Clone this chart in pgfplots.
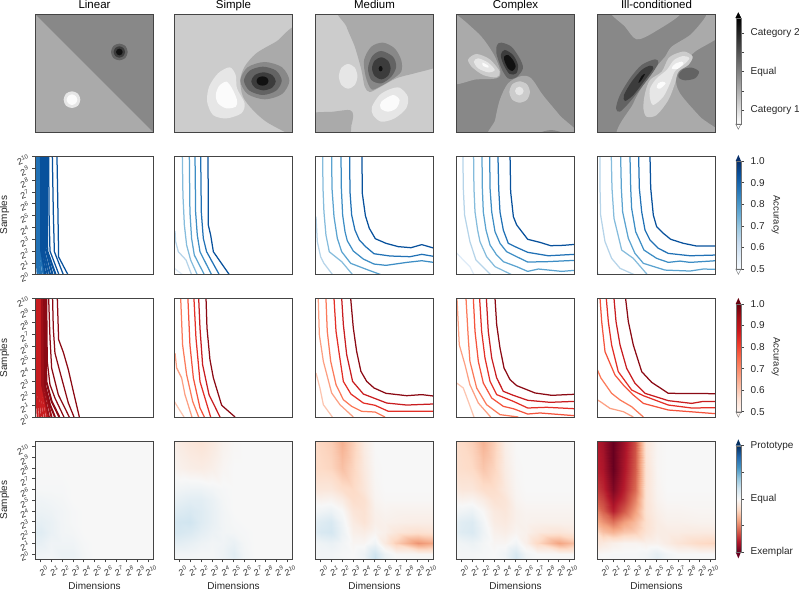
\documentclass[border=0pt]{standalone}
\usepackage{fontspec}
\setmainfont{Liberation Sans}
\usepackage{pgfplots}
\pgfplotsset{compat=1.18}
\definecolor{g0}{HTML}{FBFBFB}\definecolor{g1}{HTML}{E6E6E6}\definecolor{g2}{HTML}{CCCCCC}\definecolor{g3}{HTML}{AAAAAA}
\definecolor{g4}{HTML}{888888}\definecolor{g5}{HTML}{636363}\definecolor{g6}{HTML}{3C3C3C}\definecolor{g7}{HTML}{111111}
\definecolor{b0}{HTML}{DEEBF7}\definecolor{b1}{HTML}{B6D4E9}\definecolor{b2}{HTML}{85BCDC}\definecolor{b3}{HTML}{5BA3D0}
\definecolor{b4}{HTML}{3D8DC4}\definecolor{b5}{HTML}{2171B5}\definecolor{b6}{HTML}{08519C}
\definecolor{r0}{HTML}{FCC5B0}\definecolor{r1}{HTML}{FC9F82}\definecolor{r2}{HTML}{FB7A5A}\definecolor{r3}{HTML}{F4533C}
\definecolor{r4}{HTML}{E32F27}\definecolor{r5}{HTML}{C81D20}\definecolor{r6}{HTML}{8B0A14}
\definecolor{frame}{HTML}{444444}
\pgfplotsset{
 colormap={myblues}{HTML=(F7FBFF) HTML=(DEEBF7) HTML=(C6DBEF) HTML=(9ECAE1) HTML=(6BAED6) HTML=(4292C6) HTML=(2171B5) HTML=(08519C) HTML=(08306B)},
 colormap={myreds}{HTML=(FFF5F0) HTML=(FEE0D2) HTML=(FCBBA1) HTML=(FC9272) HTML=(FB6A4A) HTML=(EF3B2C) HTML=(CB181D) HTML=(A50F15) HTML=(67000D)},
 colormap={myrdbu}{HTML=(67001F) HTML=(B2182B) HTML=(D6604D) HTML=(F4A582) HTML=(FDDBC7) HTML=(F7F7F7) HTML=(D1E5F0) HTML=(92C5DE) HTML=(4393C3) HTML=(2166AC) HTML=(053061)},
 colormap={mygray}{HTML=(FFFFFF) HTML=(000000)},
 panel/.style 2 args={at={(#1pt,#2pt)},anchor=south west,width=118.4pt,height=118.4pt,scale only axis,
   axis line style={frame,line width=0.8pt},tick style={frame,line width=0.6pt},tick align=outside,
   major tick length=3pt,axis on top,every axis title shift=0pt,
   title style={font=\fontsize{11.5}{13}\selectfont,anchor=base,yshift=5.6pt,inner sep=0pt}},
 top/.style={xtick=\empty,ytick=\empty,y dir=reverse,ymin=43,ymax=398,every axis plot/.append style={draw=none,smooth cycle}},
 lines/.style={xmin=0,xmax=10,ymin=0,ymax=10,xtick=\empty,ytick=\empty,every axis plot/.append style={line width=1.25pt,line join=round,no markers,sharp plot}},
 powy/.style={ytick={0,...,10},yticklabels={2\textsuperscript{0},2\textsuperscript{1},2\textsuperscript{2},2\textsuperscript{3},2\textsuperscript{4},2\textsuperscript{5},2\textsuperscript{6},2\textsuperscript{7},2\textsuperscript{8},2\textsuperscript{9},2\textsuperscript{10}},yticklabel style={font=\fontsize{9}{10}\selectfont,text=black!80,rotate=20,anchor=east,inner sep=1pt,xshift=-2.5pt},ytick pos=left},
 powx/.style={xtick={0,...,10},xticklabels={2\textsuperscript{0},2\textsuperscript{1},2\textsuperscript{2},2\textsuperscript{3},2\textsuperscript{4},2\textsuperscript{5},2\textsuperscript{6},2\textsuperscript{7},2\textsuperscript{8},2\textsuperscript{9},2\textsuperscript{10}},xticklabel style={font=\fontsize{9}{10}\selectfont,text=black!80,rotate=20,anchor=north,inner sep=2pt,yshift=-3pt},xtick pos=bottom},
 heat/.style={xmin=-0.5,xmax=10.5,ymin=-0.5,ymax=10.5,colormap name=myrdbu,point meta min=-1,point meta max=1,ytick=\empty,powx},
 cbar/.style n args={3}{at={(735.7pt,#1pt)},anchor=south west,width=5.3pt,height=#2pt,scale only axis,clip=false,axis on top,
   xmin=0,xmax=1,xtick=\empty,axis line style={draw=black!55,line width=0.4pt},tick style={frame,line width=0.6pt},
   tick align=outside,major tick length=3pt,ytick pos=right,yticklabel pos=right,colormap name=#3,
   yticklabel style={inner sep=0pt,xshift=6.5pt,anchor=west,font=\fontsize{10}{12}\selectfont,text=black!85}},
 smap/.style={surf,shader=interp,mesh/cols=2,point meta=y},
 hmap/.style={surf,shader=interp,mesh/cols=11,point meta=explicit},
}
\begin{document}
\begin{tikzpicture}[x=1pt,y=1pt]
\path[use as bounding box] (0,0) rectangle (799,590);
% ---------------- row 1
\begin{axis}[panel={35.3}{457.3},top,xmin=106,xmax=461,title={Linear},axis background/.style={fill=g3}]
\addplot[fill=g4,sharp plot] coordinates {(106,43)(461,43)(461,398)} --cycle;
\addplot[fill=g5] coordinates {(383,156)(376,174)(358,181)(340,174)(333,156)(340,138)(358,131)(376,138)};
\addplot[fill=g6] coordinates {(375,156)(370,168)(358,173)(346,168)(341,156)(346,144)(358,139)(370,144)};
\addplot[fill=g7] coordinates {(368,156)(365,163)(358,166)(351,163)(348,156)(351,149)(358,146)(365,149)};
\addplot[fill=g1] coordinates {(241,299)(234,317)(216,324)(198,317)(191,299)(198,281)(216,274)(234,281)};
\addplot[fill=g0] coordinates {(232,299)(227,310)(216,315)(205,310)(200,299)(205,288)(216,283)(227,288)};
\end{axis}
\begin{axis}[panel={174.3}{457.3},top,xmin=523,xmax=880,title={Simple},axis background/.style={fill=g2}]
\addplot[fill=g3] coordinates {(900,85)(830,125)(770,160)(735,200)(722,240)(730,290)(760,330)(800,365)(860,398)(900,420)(950,300)};
\addplot[fill=g4] coordinates {(870,242)(848,282)(796,298)(744,282)(722,242)(744,202)(796,186)(848,202)};
\addplot[fill=g5] coordinates {(847,242)(830,272)(790,285)(750,272)(733,242)(750,212)(790,200)(830,212)};
\addplot[fill=g6] coordinates {(829,244)(818,263)(792,271)(766,263)(755,244)(766,225)(792,217)(818,225)};
\addplot[fill=g7] coordinates {(807,243)(802,253)(789,257)(776,253)(771,243)(776,233)(789,229)(802,233)};
\addplot[fill=g1] coordinates {(690,202)(708,225)(712,265)(735,310)(725,340)(680,355)(640,345)(622,305)(628,260)(655,220)};
\addplot[fill=g0] coordinates {(680,245)(697,265)(712,300)(708,320)(680,325)(655,310)(648,285)(658,258)};
\end{axis}
\begin{axis}[panel={315.3}{457.3},top,xmin=46,xmax=403,title={Medium},axis background/.style={fill=g2}]
\addplot[fill=g3] coordinates {(125,20)(140,80)(165,140)(185,210)(195,260)(210,276)(240,262)(290,235)(345,220)(403,205)(430,195)(430,20)};
\addplot[fill=g3] coordinates {(20,345)(100,335)(150,330)(160,345)(155,375)(140,410)(20,420)};
\addplot[fill=g4] coordinates {(250,128)(285,145)(305,180)(305,215)(275,240)(240,260)(215,268)(198,230)(193,180)(215,140)};
\addplot[fill=g5] coordinates {(245,153)(280,170)(290,200)(275,230)(245,250)(215,240)(205,205)(218,168)};
\addplot[fill=g6] coordinates {(273,205)(265,228)(245,238)(225,228)(217,205)(225,182)(245,172)(265,182)};
\addplot[fill=g7] coordinates {(249,206)(247,212)(243,214)(239,212)(237,206)(239,200)(243,198)(247,200)};
\addplot[fill=g1] coordinates {(173,229)(165,255)(145,266)(125,255)(117,229)(125,203)(145,192)(165,203)};
\addplot[fill=g1] coordinates {(300,263)(325,290)(320,325)(285,355)(245,365)(220,345)(217,320)(240,285)(270,268)};
\addplot[fill=g0] coordinates {(280,285)(300,300)(290,325)(265,335)(243,325)(245,305)};
\end{axis}
\begin{axis}[panel={456.3}{457.3},top,xmin=469,xmax=826,title={Complex},axis background/.style={fill=g4}]
\addplot[fill=g3] coordinates {(440,40)(530,95)(580,160)(602,215)(590,235)(530,238)(440,242)};
\addplot[fill=g3] coordinates {(575,420)(586,360)(600,300)(625,250)(665,228)(695,235)(730,285)(780,345)(840,420)};
\addplot[fill=g4] coordinates {(718,400)(755,390)(792,400)(755,410)};
\addplot[fill=g5] coordinates {(605,128)(635,140)(660,175)(670,205)(650,232)(625,235)(605,205)(590,160)(592,135)};
\addplot[fill=g6] coordinates {(615,150)(640,165)(655,195)(650,220)(630,222)(612,195)(603,165)};
\addplot[fill=g7] coordinates {(625,165)(640,180)(648,200)(638,213)(625,205)(615,185)(613,170)};
\addplot[fill=g2] coordinates {(530,162)(570,178)(600,215)(590,232)(550,225)(515,200)(505,178)};
\addplot[fill=g1] coordinates {(535,175)(565,188)(585,210)(565,217)(535,205)(522,185)};
\addplot[fill=g0] coordinates {(548,188)(565,197)(565,203)(550,198)};
\addplot[fill=g2] coordinates {(691,276)(682,299)(660,308)(638,299)(629,276)(638,253)(660,244)(682,253)};
\addplot[fill=g1] coordinates {(672,273)(668,282)(659,286)(650,282)(646,273)(650,264)(659,260)(668,264)};
\end{axis}
\begin{axis}[panel={597.3}{457.3},top,xmin=-8,xmax=347,title={Ill-conditioned},axis background/.style={fill=g4}]
\addplot[fill=g3] coordinates {(30,30)(75,80)(110,118)(165,95)(245,35)(140,10)};
\addplot[fill=g3] coordinates {(60,420)(100,310)(130,255)(165,205)(195,170)(215,140)(270,105)(310,60)(330,30)(370,30)(370,100)(285,155)(250,195)(228,235)(240,280)(300,350)(370,420)};
\addplot[fill=g5] coordinates {(165,178)(175,188)(160,215)(130,255)(90,305)(60,335)(48,325)(60,285)(90,235)(125,195)};
\addplot[fill=g6] coordinates {(150,197)(160,205)(135,240)(100,285)(75,303)(72,285)(95,245)(125,210)};
\addplot[fill=g7] coordinates {(135,222)(122,244)(115,248)(125,228)};
\addplot[fill=g5] coordinates {(297,215)(285,235)(255,241)(238,235)(235,225)(248,208)(275,203)};
\addplot[fill=g2] coordinates {(255,155)(278,170)(265,195)(235,215)(225,250)(205,300)(170,345)(140,350)(130,325)(135,280)(150,240)(185,215)(205,175)(230,160)};
\addplot[fill=g1] coordinates {(250,168)(268,175)(250,195)(225,213)(210,250)(190,290)(160,315)(150,295)(150,265)(170,235)(200,210)(222,180)};
\addplot[fill=g0] coordinates {(245,185)(250,192)(232,207)(215,205)(225,192)};
\addplot[fill=g0] coordinates {(187,245)(197,250)(180,266)(170,262)(175,250)};
\end{axis}
% ---------------- row 2
\begin{axis}[panel={35.3}{315.3},lines,powy]
\addplot[b5,line width=2pt] coordinates {(.05,10)(.07,2)(.2,0)};
\addplot[b5,line width=2pt] coordinates {(.14,10)(.16,2)(.35,0)};
\addplot[b5,line width=2pt] coordinates {(.25,10)(.27,2)(.5,0)};
\addplot[b5,line width=2pt] coordinates {(.36,10)(.38,2)(.7,0)};
\addplot[b6,line width=2pt] coordinates {(.48,10)(.5,2)(.85,0)};
\addplot[b6,line width=2pt] coordinates {(.6,10)(.62,2)(1.05,0)};
\addplot[b6,line width=2pt] coordinates {(.72,10)(.74,2)(1.25,0)};
\addplot[b6,line width=2pt] coordinates {(.85,10)(.87,2.2)(1.46,0)};
\addplot[b6,line width=2pt] coordinates {(.99,10)(1.01,2)(1.72,0)};
\addplot[b6] coordinates {(1.13,10)(1.16,5.3)(1.24,2)(2,0)};
\addplot[b6] coordinates {(1.44,10)(1.52,5.3)(1.61,1.95)(2.37,0)};
\addplot[b6] coordinates {(1.83,10)(1.89,6.7)(1.97,1.5)(2.76,0)};
\end{axis}
\begin{axis}[panel={174.3}{315.3},lines]
\addplot[b0] coordinates {(0,.54)(.7,0)};
\addplot[b1] coordinates {(.06,3.7)(.11,2.8)(.34,1.94)(.99,1.24)(1.46,0)};
\addplot[b2] coordinates {(.68,10)(.73,6.7)(.85,4.2)(1.04,2.5)(1.38,1.24)(1.94,0)};
\addplot[b3] coordinates {(1.27,10)(1.32,5.3)(1.46,3.07)(1.69,1.66)(2.54,0)};
\addplot[b4] coordinates {(1.75,10)(1.8,5.3)(1.94,3.35)(2.17,1.94)(3.15,0)};
\addplot[b5] coordinates {(2.23,10)(2.28,5.3)(2.45,3.07)(2.73,1.94)(3.8,0)};
\addplot[b6] coordinates {(2.85,10)(2.87,4.2)(3.07,3.35)(3.3,1.94)(4.65,0)};
\end{axis}
\begin{axis}[panel={315.3}{315.3},lines]
\addplot[b1] coordinates {(.06,4.9)(.17,2.79)(.45,1.52)(.73,.96)(1.46,0)};
\addplot[b2] coordinates {(.62,10)(.65,7.3)(.73,5.3)(.9,3.35)(1.18,1.94)(2.23,1.1)(3.15,0)};
\addplot[b3] coordinates {(1.38,10)(1.41,7.3)(1.58,4.9)(1.86,3.07)(2.23,1.94)(2.99,.96)(4.48,.39)(5.55,0)};
\addplot[b4] coordinates {(2.17,10)(2.2,7.3)(2.31,5.04)(2.51,3.63)(2.7,2.87)(3.21,2)(4.06,1.32)(4.96,.9)(5.97,.79)(7.72,1.04)(8.99,1.18)(10,1.04)};
\addplot[b5] coordinates {(2.9,10)(2.93,7)(3.07,5.04)(3.35,3.77)(3.72,2.93)(4.25,2.37)(4.96,1.77)(6.31,1.58)(8,1.52)(8.99,1.72)(10,1.55)};
\addplot[b6] coordinates {(3.94,10)(3.97,6.87)(4.23,4.99)(4.56,3.92)(5.07,3.04)(5.97,2.65)(7.01,2.37)(8.08,2.28)(8.99,2.54)(10,2.25)};
\end{axis}
\begin{axis}[panel={456.3}{315.3},lines]
\addplot[b0] coordinates {(0,1.86)(.59,1.24)(1.15,.68)(1.49,0)};
\addplot[b1] coordinates {(.56,10)(.59,7.3)(.7,5.04)(1.15,2.79)(1.66,1.24)(2.9,0)};
\addplot[b2] coordinates {(1.46,10)(1.49,7.3)(1.58,5.3)(1.8,3.77)(2,2.79)(2.56,1.52)(3.27,.68)(4.68,0)};
\addplot[b3] coordinates {(2.17,10)(2.2,7.3)(2.28,5.3)(2.51,3.77)(2.85,2.51)(3.41,1.66)(3.97,1.1)(5.1,.68)(6.03,.28)(6.93,.48)(8.9,.28)(10,.37)};
\addplot[b4] coordinates {(2.82,10)(2.85,7.3)(2.99,5.3)(3.27,3.63)(3.69,2.65)(4.25,1.94)(5.1,1.52)(6.03,1.07)(7.63,1.1)(10,1.21)};
\addplot[b5] coordinates {(3.52,10)(3.58,7.3)(3.69,5.3)(3.97,3.77)(4.39,2.65)(4.96,2.37)(6.03,1.89)(7.77,1.6)(10,1.72)};
\addplot[b6] coordinates {(4.54,10)(4.59,7)(4.82,4.9)(5.1,4.2)(6.03,2.99)(7.07,2.73)(7.97,2.45)(9.04,2.48)(10,2.56)};
\end{axis}
\begin{axis}[panel={597.3}{315.3},lines]
\addplot[b0] coordinates {(0,.25)(.14,0)};
\addplot[b1] coordinates {(.23,10)(.23,7.3)(.28,5.04)(.65,2.79)(1.21,1.38)(1.92,.54)(3.13,0)};
\addplot[b2] coordinates {(1.18,10)(1.24,7.3)(1.41,4.76)(2.06,2.08)(3.04,1.38)(4.23,0)};
\addplot[b3] coordinates {(1.97,10)(2.03,7.3)(2.14,5.3)(2.62,3.07)(3.18,1.8)(3.89,.96)(5.72,.39)(7.83,.31)(8.96,.48)(10,.45)};
\addplot[b4] coordinates {(2.76,10)(2.82,7.3)(2.9,5.6)(3.24,3.63)(3.94,2.08)(5.01,1.38)(6,1.04)(6.99,1.15)(7.83,1.04)(10,1.18)};
\addplot[b5] coordinates {(3.49,10)(3.55,7.3)(3.75,5.3)(4.03,3.77)(4.45,2.93)(5.15,2.23)(6,1.8)(7.83,1.6)(10,1.66)};
\addplot[b6] coordinates {(4.45,10)(4.51,7.3)(4.73,5.04)(5.01,4.06)(5.58,3.49)(6.2,2.99)(7.27,2.65)(8.39,2.42)(10,2.42)};
\end{axis}
% ---------------- row 3
\begin{axis}[panel={35.3}{173},lines,powy]
\addplot[r5,line width=2pt] coordinates {(.05,10)(.07,2.7)(.2,0)};
\addplot[r5,line width=2pt] coordinates {(.15,10)(.17,2.7)(.4,0)};
\addplot[r5,line width=2pt] coordinates {(.25,10)(.27,2.7)(.6,0)};
\addplot[r5,line width=2pt] coordinates {(.35,10)(.37,2.7)(.8,0)};
\addplot[r5,line width=2pt] coordinates {(.45,10)(.47,2.7)(1,0)};
\addplot[r6!70!r5,line width=2pt] coordinates {(.55,10)(.57,2.7)(1.15,0)};
\addplot[r6!70!r5,line width=2pt] coordinates {(.65,10)(.69,2.7)(1.37,0)};
\addplot[r6,line width=2pt] coordinates {(.75,10)(.82,2.7)(1.24,1.04)(1.66,0)};
\addplot[r6,line width=2pt] coordinates {(.87,10)(.93,3)(1.38,1.32)(2.03,0)};
\addplot[r6] coordinates {(.96,10)(1.01,4.7)(1.24,2.73)(1.66,1.6)(2.42,0)};
\addplot[r6] coordinates {(1.13,10)(1.24,6.68)(1.38,4.14)(1.94,1.89)(2.87,0)};
\addplot[r6] coordinates {(1.46,10)(1.52,7.5)(1.66,5.4)(2.03,4)(2.79,1.18)(3.27,0)};
\addplot[r6] coordinates {(1.86,10)(1.97,6.54)(2.37,5.46)(2.79,4)(3.21,2.17)(3.72,0)};
\end{axis}
\begin{axis}[panel={174.3}{173},lines]
\addplot[r0] coordinates {(0,1.32)(.34,.76)(.82,0)};
\addplot[r1] coordinates {(.06,5.4)(.2,4.14)(.62,3.3)(.9,1.89)(1.49,0)};
\addplot[r2] coordinates {(.54,10)(.7,6.1)(1.04,3.58)(1.55,1.32)(2.06,0)};
\addplot[r3] coordinates {(1.15,10)(1.32,6.1)(1.61,3.3)(2.17,.76)(2.54,0)};
\addplot[r4] coordinates {(1.66,10)(1.83,6.68)(2.17,3)(3.07,0)};
\addplot[r5] coordinates {(2.06,10)(2.17,7.5)(2.39,4.42)(2.93,1.89)(3.86,0)};
\addplot[r6] coordinates {(2.68,10)(2.76,7.52)(3.01,4.85)(3.3,3.3)(4,.99)(5.13,0)};
\end{axis}
\begin{axis}[panel={315.3}{173},lines]
\addplot[r0] coordinates {(.06,3.72)(.39,2.45)(.68,1.04)(1.44,0)};
\addplot[r1] coordinates {(.25,10)(.34,6.96)(.68,4.7)(1.38,2.03)(2.08,1.04)(3.21,0)};
\addplot[r2] coordinates {(.9,10)(1.01,7.24)(1.3,4.7)(1.75,2.73)(2.37,1.46)(3.07,.9)(3.92,.48)(5.04,.42)(5.89,0)};
\addplot[r4] coordinates {(1.58,10)(1.75,7.24)(2.03,5.27)(2.37,3)(3.01,1.94)(4.06,1.18)(5.04,.99)(6.17,.48)(10,.48)};
\addplot[r5] coordinates {(2.23,10)(2.37,7.8)(2.65,5.27)(3.15,3.01)(4.06,1.94)(6.03,1.18)(7.72,1.01)(10,1.1)};
\addplot[r6] coordinates {(2.99,10)(3.21,7.52)(3.49,5.55)(3.85,3.86)(4.34,3.01)(4.96,2.45)(5.97,2)(7.72,1.8)(8.99,1.89)(10,1.77)};
\end{axis}
\begin{axis}[panel={456.3}{173},lines]
\addplot[r0] coordinates {(.03,2.87)(.59,2.45)(1.01,1.32)(1.49,0)};
\addplot[r1] coordinates {(.06,10)(.25,6.1)(.73,4.42)(1.15,2.73)(1.86,1.18)(2.9,0)};
\addplot[r2] coordinates {(.82,10)(1.01,6.68)(1.15,4.7)(1.72,2.45)(2.56,1.04)(3.69,.2)(5.24,0)};
\addplot[r3] coordinates {(1.44,10)(1.58,7.24)(1.86,4.7)(2.28,2.87)(2.99,1.6)(3.97,.9)(4.82,.7)(6.03,.25)(7.07,.34)(10,.11)};
\addplot[r4] coordinates {(1.97,10)(2.14,7.24)(2.42,5)(2.85,3.01)(3.41,1.89)(4.82,1.32)(6.03,.76)(7.63,.82)(10,.7)};
\addplot[r5] coordinates {(2.54,10)(2.7,7.24)(2.99,4.99)(3.41,3.3)(3.97,2.17)(4.82,1.83)(6.03,1.41)(7.92,1.24)(10,1.32)};
\addplot[r6] coordinates {(3.27,10)(3.41,7.8)(3.69,5.83)(4.03,4.14)(4.54,3.15)(5.1,2.65)(6.65,2.03)(8.06,1.83)(10,1.92)};
\end{axis}
\begin{axis}[panel={597.3}{173},lines]
\addplot[r1] coordinates {(0,1.45)(.25,1.3)(1.07,.73)(2.2,.45)(3.04,0)};
\addplot[r2] coordinates {(0,4)(.3,3.3)(1.21,2)(1.92,1.44)(2.9,.87)(3.89,0)};
\addplot[r3] coordinates {(.23,10)(.37,8.06)(.65,5.52)(1.49,3.55)(2.2,2.7)(3.04,1.86)(3.89,1.15)(6,.59)(10,.28)};
\addplot[r4] coordinates {(.76,10)(.93,8.06)(1.21,6.08)(1.77,3.83)(2.9,2.28)(3.89,1.8)(6,1.01)(7.97,.76)(10,.79)};
\addplot[r5] coordinates {(1.41,10)(1.58,8.06)(1.92,6.08)(2.48,4.11)(3.18,2.85)(4.03,2)(6,1.38)(7.97,1.15)(8.96,1.32)(10,1.3)};
\addplot[r6] coordinates {(2.39,10)(2.62,8.06)(3.04,6.08)(3.75,3.83)(4.59,2.93)(6,2)(10,1.97)};
\end{axis}
% ---------------- row 4
\begin{axis}[panel={35.3}{30.7},heat,powy]
\addplot[hmap] table[meta=c,row sep=\\] {x y c\\
-.5 -.5 .03\\0 -.5 .03\\1 -.5 .02\\2 -.5 .05\\3 -.5 .05\\4 -.5 .02\\5 -.5 0\\6 -.5 0\\7 -.5 0\\9 -.5 0\\10.5 -.5 0\\
-.5 0 .04\\0 0 .04\\1 0 .03\\2 0 .06\\3 0 .06\\4 0 .02\\5 0 0\\6 0 0\\7 0 0\\9 0 0\\10.5 0 0\\
-.5 1 .08\\0 1 .08\\1 1 .04\\2 1 .04\\3 1 .04\\4 1 .01\\5 1 0\\6 1 0\\7 1 0\\9 1 0\\10.5 1 0\\
-.5 2 .12\\0 2 .12\\1 2 .07\\2 2 .03\\3 2 .02\\4 2 0\\5 2 0\\6 2 0\\7 2 0\\9 2 0\\10.5 2 0\\
-.5 3 .08\\0 3 .09\\1 3 .07\\2 3 .03\\3 3 .01\\4 3 0\\5 3 0\\6 3 0\\7 3 0\\9 3 0\\10.5 3 0\\
-.5 4 .05\\0 4 .06\\1 4 .05\\2 4 .03\\3 4 .01\\4 4 0\\5 4 0\\6 4 0\\7 4 0\\9 4 0\\10.5 4 0\\
-.5 5 .03\\0 5 .04\\1 5 .03\\2 5 .02\\3 5 0\\4 5 0\\5 5 0\\6 5 0\\7 5 0\\9 5 0\\10.5 5 0\\
-.5 6 .01\\0 6 .01\\1 6 .01\\2 6 .01\\3 6 0\\4 6 0\\5 6 0\\6 6 0\\7 6 0\\9 6 0\\10.5 6 0\\
-.5 8 0\\0 8 0\\1 8 0\\2 8 0\\3 8 0\\4 8 0\\5 8 0\\6 8 0\\7 8 0\\9 8 0\\10.5 8 0\\
-.5 10.5 0\\0 10.5 0\\1 10.5 0\\2 10.5 0\\3 10.5 0\\4 10.5 0\\5 10.5 0\\6 10.5 0\\7 10.5 0\\9 10.5 0\\10.5 10.5 0\\
};
\end{axis}
\begin{axis}[panel={174.3}{30.7},heat]
\addplot[hmap] table[meta=c,row sep=\\] {x y c\\
-.5 -.5 .02\\0 -.5 .02\\1 -.5 .02\\2 -.5 .02\\3 -.5 .02\\4 -.5 .05\\5 -.5 .1\\6 -.5 .03\\7 -.5 0\\9 -.5 0\\10.5 -.5 0\\
-.5 0 .03\\0 0 .03\\1 0 .03\\2 0 .02\\3 0 .02\\4 0 .05\\5 0 .11\\6 0 .03\\7 0 0\\9 0 0\\10.5 0 0\\
-.5 1 .1\\0 1 .1\\1 1 .08\\2 1 .05\\3 1 .03\\4 1 .04\\5 1 .07\\6 1 .02\\7 1 0\\9 1 0\\10.5 1 0\\
-.5 2 .17\\0 2 .17\\1 2 .15\\2 2 .1\\3 2 .06\\4 2 .03\\5 2 .02\\6 2 .01\\7 2 0\\9 2 0\\10.5 2 0\\
-.5 3 .17\\0 3 .19\\1 3 .2\\2 3 .13\\3 3 .08\\4 3 .03\\5 3 .01\\6 3 0\\7 3 0\\9 3 0\\10.5 3 0\\
-.5 4 .12\\0 4 .14\\1 4 .16\\2 4 .13\\3 4 .08\\4 4 .03\\5 4 0\\6 4 0\\7 4 0\\9 4 0\\10.5 4 0\\
-.5 5 .07\\0 5 .09\\1 5 .11\\2 5 .11\\3 5 .07\\4 5 .02\\5 5 0\\6 5 0\\7 5 0\\9 5 0\\10.5 5 0\\
-.5 6 .03\\0 6 .04\\1 6 .05\\2 6 .05\\3 6 .03\\4 6 .01\\5 6 0\\6 6 0\\7 6 0\\9 6 0\\10.5 6 0\\
-.5 8 -.03\\0 8 -.05\\1 8 -.07\\2 8 -.08\\3 8 -.06\\4 8 -.02\\5 8 0\\6 8 0\\7 8 0\\9 8 0\\10.5 8 0\\
-.5 10.5 -.06\\0 10.5 -.09\\1 10.5 -.12\\2 10.5 -.14\\3 10.5 -.1\\4 10.5 -.04\\5 10.5 -.01\\6 10.5 0\\7 10.5 0\\9 10.5 0\\10.5 10.5 0\\
};
\end{axis}
\begin{axis}[panel={315.3}{30.7},heat]
\addplot[hmap] table[meta=c,row sep=\\] {x y c\\
-.5 -.5 .02\\0 -.5 .03\\1 -.5 .03\\2 -.5 .02\\3 -.5 0\\4 -.5 .04\\5 -.5 .22\\6 -.5 .06\\7 -.5 0\\9 -.5 0\\10.5 -.5 0\\
-.5 0 .02\\0 0 .03\\1 0 .03\\2 0 .01\\3 0 0\\4 0 .05\\5 0 .2\\6 0 .05\\7 0 -.01\\9 0 -.02\\10.5 0 -.02\\
-.5 1 .03\\0 1 .05\\1 1 .07\\2 1 .03\\3 1 -.02\\4 1 -.02\\5 1 .04\\6 1 -.1\\7 1 -.25\\9 1 -.45\\10.5 1 -.38\\
-.5 2 .12\\0 2 .16\\1 2 .18\\2 2 .06\\3 2 -.06\\4 2 -.08\\5 2 -.03\\6 2 -.06\\7 2 -.12\\9 2 -.16\\10.5 2 -.14\\
-.5 3 .1\\0 3 .13\\1 3 .16\\2 3 .04\\3 3 -.09\\4 3 -.14\\5 3 -.06\\6 3 -.05\\7 3 -.06\\9 3 -.07\\10.5 3 -.07\\
-.5 4 .02\\0 4 .04\\1 4 .06\\2 4 0\\3 4 -.13\\4 4 -.15\\5 4 -.05\\6 4 -.03\\7 4 -.04\\9 4 -.04\\10.5 4 -.04\\
-.5 5 -.03\\0 5 -.04\\1 5 -.03\\2 5 -.08\\3 5 -.18\\4 5 -.16\\5 5 -.03\\6 5 -.01\\7 5 -.01\\9 5 -.01\\10.5 5 -.01\\
-.5 6 -.12\\0 6 -.12\\1 6 -.12\\2 6 -.18\\3 6 -.2\\4 6 -.12\\5 6 -.02\\6 6 0\\7 6 0\\9 6 0\\10.5 6 0\\
-.5 8 -.2\\0 8 -.2\\1 8 -.22\\2 8 -.3\\3 8 -.22\\4 8 -.1\\5 8 -.01\\6 8 0\\7 8 0\\9 8 0\\10.5 8 0\\
-.5 10.5 -.2\\0 10.5 -.22\\1 10.5 -.25\\2 10.5 -.36\\3 10.5 -.24\\4 10.5 -.08\\5 10.5 0\\6 10.5 0\\7 10.5 0\\9 10.5 0\\10.5 10.5 0\\
};
\end{axis}
\begin{axis}[panel={456.3}{30.7},heat]
\addplot[hmap] table[meta=c,row sep=\\] {x y c\\
-.5 -.5 .01\\0 -.5 .02\\1 -.5 .02\\2 -.5 .01\\3 -.5 0\\4 -.5 .03\\5 -.5 .17\\6 -.5 .04\\7 -.5 0\\9 -.5 0\\10.5 -.5 0\\
-.5 0 .01\\0 0 .02\\1 0 .02\\2 0 .01\\3 0 0\\4 0 .04\\5 0 .16\\6 0 .03\\7 0 0\\9 0 -.01\\10.5 0 -.01\\
-.5 1 .03\\0 1 .04\\1 1 .06\\2 1 .02\\3 1 -.02\\4 1 -.02\\5 1 .03\\6 1 -.06\\7 1 -.2\\9 1 -.4\\10.5 1 -.3\\
-.5 2 .1\\0 2 .13\\1 2 .15\\2 2 .05\\3 2 -.05\\4 2 -.07\\5 2 -.03\\6 2 -.05\\7 2 -.1\\9 2 -.13\\10.5 2 -.1\\
-.5 3 .09\\0 3 .12\\1 3 .14\\2 3 .03\\3 3 -.08\\4 3 -.1\\5 3 -.05\\6 3 -.04\\7 3 -.05\\9 3 -.05\\10.5 3 -.05\\
-.5 4 .02\\0 4 .04\\1 4 .06\\2 4 -.01\\3 4 -.1\\4 4 -.12\\5 4 -.05\\6 4 -.03\\7 4 -.03\\9 4 -.03\\10.5 4 -.03\\
-.5 5 -.03\\0 5 -.04\\1 5 -.03\\2 5 -.08\\3 5 -.15\\4 5 -.13\\5 5 -.03\\6 5 -.01\\7 5 -.01\\9 5 -.01\\10.5 5 -.01\\
-.5 6 -.1\\0 6 -.12\\1 6 -.12\\2 6 -.18\\3 6 -.18\\4 6 -.1\\5 6 -.02\\6 6 0\\7 6 0\\9 6 0\\10.5 6 0\\
-.5 8 -.17\\0 8 -.18\\1 8 -.2\\2 8 -.28\\3 8 -.22\\4 8 -.08\\5 8 -.01\\6 8 0\\7 8 0\\9 8 0\\10.5 8 0\\
-.5 10.5 -.18\\0 10.5 -.2\\1 10.5 -.24\\2 10.5 -.35\\3 10.5 -.24\\4 10.5 -.06\\5 10.5 0\\6 10.5 0\\7 10.5 0\\9 10.5 0\\10.5 10.5 0\\
};
\end{axis}
\begin{axis}[panel={597.3}{30.7},heat]
\addplot[hmap] table[meta=c,row sep=\\] {x y c\\
-.5 -.5 0\\0 -.5 0\\1 -.5 .01\\2 -.5 .01\\3 -.5 .01\\4 -.5 .03\\5 -.5 .1\\6 -.5 .03\\7 -.5 0\\9 -.5 0\\10.5 -.5 0\\
-.5 0 -.01\\0 0 0\\1 0 .01\\2 0 .01\\3 0 .01\\4 0 .03\\5 0 .09\\6 0 .03\\7 0 0\\9 0 0\\10.5 0 0\\
-.5 1 -.12\\0 1 -.1\\1 1 -.06\\2 1 -.03\\3 1 -.03\\4 1 -.05\\5 1 -.04\\6 1 -.08\\7 1 -.13\\9 1 -.2\\10.5 1 -.22\\
-.5 2 -.22\\0 2 -.3\\1 2 -.35\\2 2 -.28\\3 2 -.25\\4 2 -.14\\5 2 -.08\\6 2 -.08\\7 2 -.08\\9 2 -.09\\10.5 2 -.09\\
-.5 3 -.38\\0 3 -.45\\1 3 -.55\\2 3 -.42\\3 3 -.32\\4 3 -.16\\5 3 -.08\\6 3 -.05\\7 3 -.05\\9 3 -.04\\10.5 3 -.04\\
-.5 4 -.5\\0 4 -.6\\1 4 -.78\\2 4 -.62\\3 4 -.42\\4 4 -.14\\5 4 -.06\\6 4 -.03\\7 4 -.03\\9 4 -.02\\10.5 4 -.02\\
-.5 5 -.62\\0 5 -.68\\1 5 -.86\\2 5 -.72\\3 5 -.5\\4 5 -.14\\5 5 -.04\\6 5 -.01\\7 5 -.01\\9 5 -.01\\10.5 5 -.01\\
-.5 6 -.7\\0 6 -.76\\1 6 -.94\\2 6 -.78\\3 6 -.58\\4 6 -.14\\5 6 -.03\\6 6 0\\7 6 0\\9 6 0\\10.5 6 0\\
-.5 8 -.78\\0 8 -.82\\1 8 -1\\2 8 -.82\\3 8 -.62\\4 8 -.14\\5 8 -.02\\6 8 0\\7 8 0\\9 8 0\\10.5 8 0\\
-.5 10.5 -.8\\0 10.5 -.85\\1 10.5 -1\\2 10.5 -.85\\3 10.5 -.65\\4 10.5 -.12\\5 10.5 -.02\\6 10.5 0\\7 10.5 0\\9 10.5 0\\10.5 10.5 0\\
};
\end{axis}
% ---------------- colour bars
\begin{axis}[cbar={466}{106}{mygray},ymin=0,ymax=1,ytick={.132,.31,.493,.675,.856},yticklabels={Category 1,,Equal,,Category 2}]
\addplot[smap] coordinates {(0,0)(1,0)(0,1)(1,1)};
\addplot[fill=black,draw=black] coordinates {(0,1)(.5,1.05)(1,1)} --cycle;
\addplot[fill=white,draw=black!60] coordinates {(0,0)(.5,-.05)(1,0)} --cycle;
\end{axis}
\begin{axis}[cbar={321}{108}{myblues},ymin=.5,ymax=1,ytick={.5,.6,.7,.8,.9,1},yticklabels={0.5,0.6,0.7,0.8,0.9,1.0}]
\addplot[smap] coordinates {(0,.5)(1,.5)(0,1)(1,1)};
\addplot[fill={rgb,255:red,8;green,48;blue,107},draw=none] coordinates {(0,1)(.5,1.028)(1,1)} --cycle;
\addplot[fill={rgb,255:red,247;green,251;blue,255},draw=black!50] coordinates {(0,.5)(.5,.475)(1,.5)} --cycle;
\end{axis}
\begin{axis}[cbar={178.3}{107.7}{myreds},ymin=.5,ymax=1,ytick={.5,.6,.7,.8,.9,1},yticklabels={0.5,0.6,0.7,0.8,0.9,1.0}]
\addplot[smap] coordinates {(0,.5)(1,.5)(0,1)(1,1)};
\addplot[fill={rgb,255:red,103;green,0;blue,13},draw=none] coordinates {(0,1)(.5,1.028)(1,1)} --cycle;
\addplot[fill={rgb,255:red,255;green,245;blue,240},draw=black!50] coordinates {(0,.5)(.5,.475)(1,.5)} --cycle;
\end{axis}
\begin{axis}[cbar={38}{106.3}{myrdbu},ymin=-1,ymax=1,ytick={-1,-.5,0,.5,1},yticklabels={Exemplar,,Equal,,Prototype}]
\addplot[smap] coordinates {(0,-1)(1,-1)(0,1)(1,1)};
\addplot[fill={rgb,255:red,5;green,48;blue,97},draw=none] coordinates {(0,1)(.5,1.12)(1,1)} --cycle;
\addplot[fill={rgb,255:red,103;green,0;blue,31},draw=none] coordinates {(0,-1)(.5,-1.12)(1,-1)} --cycle;
\end{axis}
% ---------------- labels
\begin{scope}[every node/.style={font=\fontsize{10}{12}\selectfont,text=black!85,inner sep=0pt}]
\node[rotate=90] at (4.5,375) {Samples};
\node[rotate=90] at (4.5,232) {Samples};
\node[rotate=90] at (4.5,90) {Samples};
\node at (94.5,4.5) {Dimensions};
\node at (233.5,4.5) {Dimensions};
\node at (374.5,4.5) {Dimensions};
\node at (515.5,4.5) {Dimensions};
\node at (656.5,4.5) {Dimensions};
\node[rotate=-90,font=\fontsize{9.5}{11}\selectfont] at (776,375) {Accuracy};
\node[rotate=-90,font=\fontsize{9.5}{11}\selectfont] at (776,233) {Accuracy};
\end{scope}
\end{tikzpicture}
\end{document}
